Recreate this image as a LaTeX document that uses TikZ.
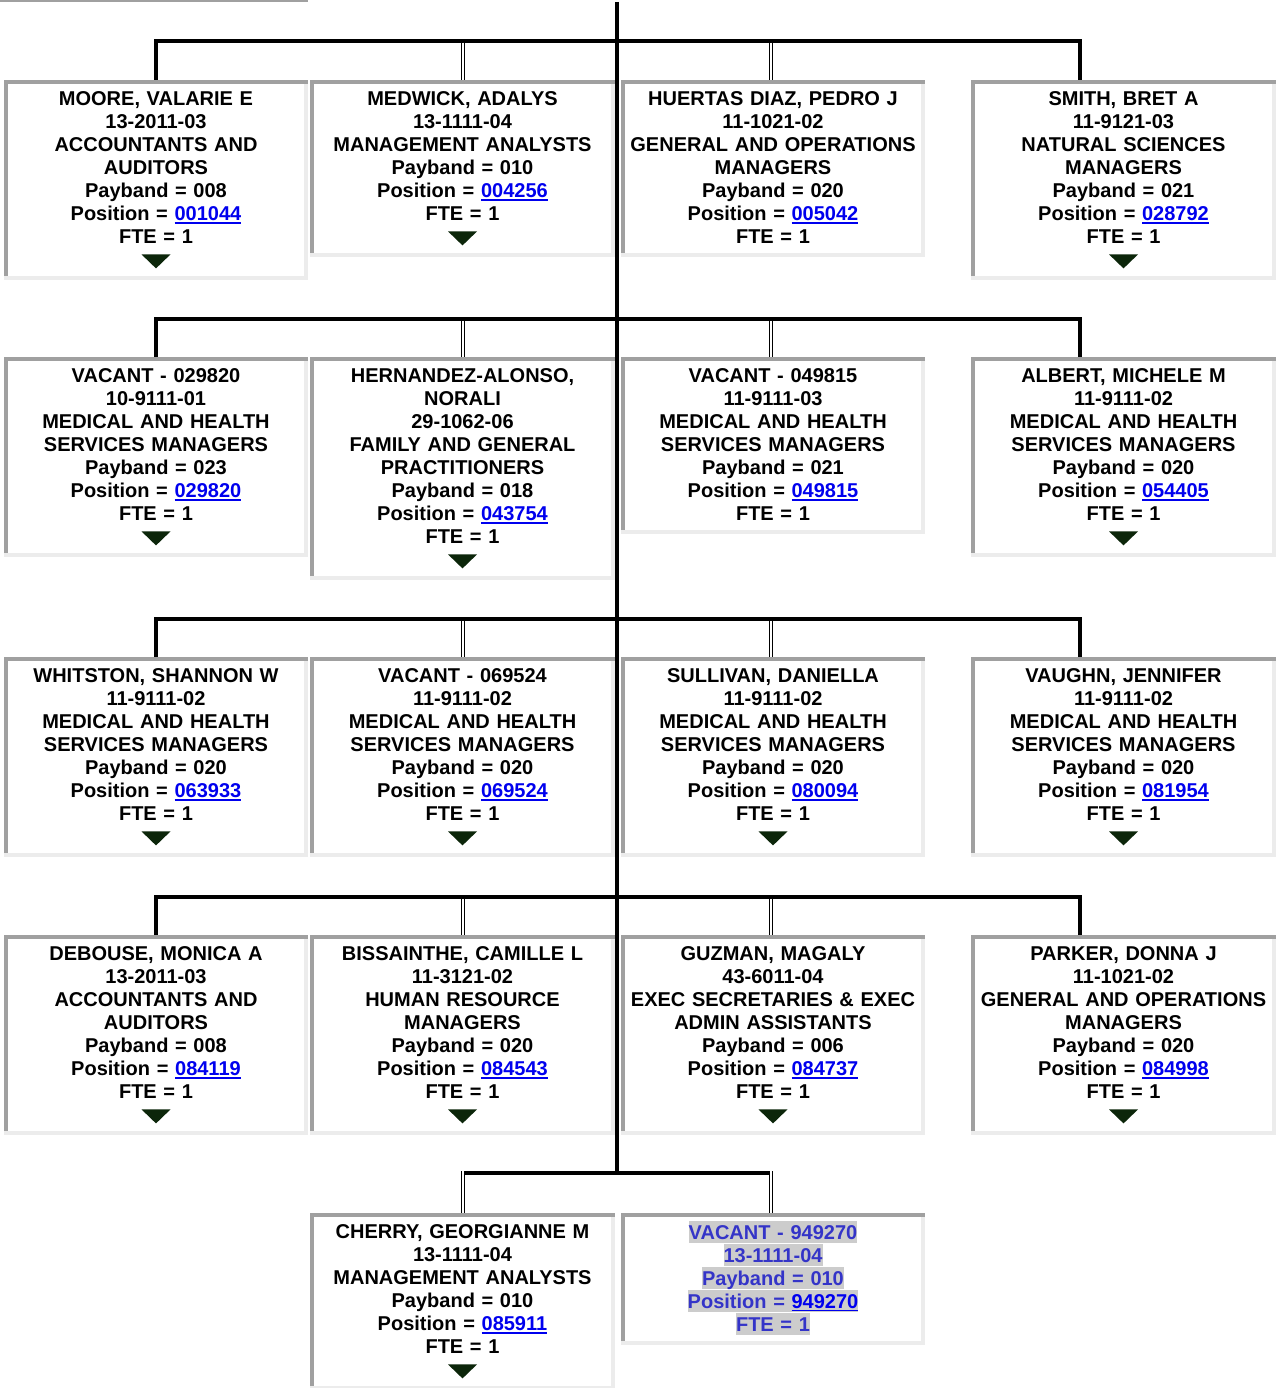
\documentclass[tikz,border=0pt]{standalone}
\usepackage{fontspec}
\setmainfont{Liberation Sans}
\definecolor{rimdk}{HTML}{A0A0A0}
\definecolor{rimlt}{HTML}{ECECEC}
\definecolor{linkc}{HTML}{0000EE}
\definecolor{downc}{HTML}{0C260A}
\definecolor{vactxt}{HTML}{3434C8}
\definecolor{vacbg}{HTML}{CCCCCC}
\usetikzlibrary{calc}
\newcommand\pfont{\fontsize{20pt}{23pt}\selectfont\bfseries}
\newcommand\posn[1]{{\color{linkc}\setbox0\hbox{#1}\rlap{\rule[-3.2pt]{\wd0}{1.6pt}}\box0}}
\newcommand\hilite[1]{{\fboxsep=0pt\colorbox{vacbg}{\rule[-3.5pt]{0pt}{21.5pt}#1}}}
\newcommand\bevel[1]{%
  \draw[rimdk,line width=4pt] ([xshift=2pt,yshift=4pt]#1.south west) -- ([xshift=2pt,yshift=-2pt]#1.north west) -- ([yshift=-2pt]#1.north east);
  \draw[rimlt,line width=4pt] ([xshift=-2pt,yshift=-4pt]#1.north east) -- ([xshift=-2pt,yshift=2pt]#1.south east) -- ([yshift=2pt]#1.south west);}
\newcommand\more[1]{\fill[downc] ($(#1.south)+(-14.5,-26)$) -- ($(#1.south)+(14.5,-26)$) -- ($(#1.south)+(0,-12)$) -- cycle;}
\tikzset{
  pbox/.style={anchor=north,text width=296pt,inner xsep=4pt,inner ysep=8pt,align=center,fill=white,font=\pfont,
    execute at begin node={\rule{0pt}{17.5pt}},execute at end node={\rule[-5.5pt]{0pt}{5.5pt}}},
  wire/.style={draw=black,line width=3.5pt},
  dwire/.style={draw=black,double=white,line width=1pt,double distance=2pt},
}
\begin{document}
\begin{tikzpicture}[x=1pt,y=-1pt]
\useasboundingbox (0,0) rectangle (1275,1388);
% bottom of the box above, cut off
\fill[rimdk] (0,0) rectangle (308,2.5);
\coordinate (top) at (617,2);
\coordinate (x3) at (771,0);
\coordinate (x4) at (1080,0);
\foreach \r/\y in {1/41,2/319,3/619,4/897,5/1173} \coordinate (b\r) at (617,\y);
% row 1
\node[pbox] (c11) at (156,80) {MOORE, VALARIE E\\13-2011-03\\ACCOUNTANTS AND\\AUDITORS\\Payband = 008\\Position = \posn{001044}\\FTE = 1\\};
\node[pbox] (c12) at (462.5,80) {MEDWICK, ADALYS\\13-1111-04\\MANAGEMENT ANALYSTS\\Payband = 010\\Position = \posn{004256}\\FTE = 1\\};
\node[pbox] (c13) at (773,80) {HUERTAS DIAZ, PEDRO J\\11-1021-02\\GENERAL AND OPERATIONS\\MANAGERS\\Payband = 020\\Position = \posn{005042}\\FTE = 1};
\node[pbox] (c14) at (1123.5,80) {SMITH, BRET A\\11-9121-03\\NATURAL SCIENCES\\MANAGERS\\Payband = 021\\Position = \posn{028792}\\FTE = 1\\};
% row 2
\node[pbox] (c21) at (156,357) {VACANT - 029820\\10-9111-01\\MEDICAL AND HEALTH\\SERVICES MANAGERS\\Payband = 023\\Position = \posn{029820}\\FTE = 1\\};
\node[pbox] (c22) at (462.5,357) {HERNANDEZ-ALONSO,\\NORALI\\29-1062-06\\FAMILY AND GENERAL\\PRACTITIONERS\\Payband = 018\\Position = \posn{043754}\\FTE = 1\\};
\node[pbox] (c23) at (773,357) {VACANT - 049815\\11-9111-03\\MEDICAL AND HEALTH\\SERVICES MANAGERS\\Payband = 021\\Position = \posn{049815}\\FTE = 1};
\node[pbox] (c24) at (1123.5,357) {ALBERT, MICHELE M\\11-9111-02\\MEDICAL AND HEALTH\\SERVICES MANAGERS\\Payband = 020\\Position = \posn{054405}\\FTE = 1\\};
% row 3
\node[pbox] (c31) at (156,657) {WHITSTON, SHANNON W\\11-9111-02\\MEDICAL AND HEALTH\\SERVICES MANAGERS\\Payband = 020\\Position = \posn{063933}\\FTE = 1\\};
\node[pbox] (c32) at (462.5,657) {VACANT - 069524\\11-9111-02\\MEDICAL AND HEALTH\\SERVICES MANAGERS\\Payband = 020\\Position = \posn{069524}\\FTE = 1\\};
\node[pbox] (c33) at (773,657) {SULLIVAN, DANIELLA\\11-9111-02\\MEDICAL AND HEALTH\\SERVICES MANAGERS\\Payband = 020\\Position = \posn{080094}\\FTE = 1\\};
\node[pbox] (c34) at (1123.5,657) {VAUGHN, JENNIFER\\11-9111-02\\MEDICAL AND HEALTH\\SERVICES MANAGERS\\Payband = 020\\Position = \posn{081954}\\FTE = 1\\};
% row 4
\node[pbox] (c41) at (156,935) {DEBOUSE, MONICA A\\13-2011-03\\ACCOUNTANTS AND\\AUDITORS\\Payband = 008\\Position = \posn{084119}\\FTE = 1\\};
\node[pbox] (c42) at (462.5,935) {BISSAINTHE, CAMILLE L\\11-3121-02\\HUMAN RESOURCE\\MANAGERS\\Payband = 020\\Position = \posn{084543}\\FTE = 1\\};
\node[pbox] (c43) at (773,935) {GUZMAN, MAGALY\\43-6011-04\\EXEC SECRETARIES \& EXEC\\ADMIN ASSISTANTS\\Payband = 006\\Position = \posn{084737}\\FTE = 1\\};
\node[pbox] (c44) at (1123.5,935) {PARKER, DONNA J\\11-1021-02\\GENERAL AND OPERATIONS\\MANAGERS\\Payband = 020\\Position = \posn{084998}\\FTE = 1\\};
% row 5
\node[pbox] (c52) at (462.5,1213) {CHERRY, GEORGIANNE M\\13-1111-04\\MANAGEMENT ANALYSTS\\Payband = 010\\Position = \posn{085911}\\FTE = 1\\};
\node[pbox,text=vactxt,execute at begin node={}] (c53) at (773,1213) {\hilite{VACANT - 949270}\\\hilite{13-1111-04}\\\hilite{Payband = 010}\\\hilite{Position = \posn{949270}}\\\hilite{FTE = 1}};
\foreach \n in {c11,c12,c13,c14,c21,c22,c23,c24,c31,c32,c33,c34,c41,c42,c43,c44,c52,c53} \bevel{\n};
\foreach \n in {c11,c12,c14,c21,c22,c24,c31,c32,c33,c34,c41,c42,c43,c44,c52} \more{\n};
% connectors
\draw[wire] (top) -- (b5);
\foreach \r in {1,2,3,4}{
  \draw[wire] (c\r1.north) |- (b\r) -| (c\r4.north -| x4);
  \draw[dwire] ($(c\r2.north |- b\r)+(0,1.75)$) -- (c\r2.north);
  \draw[dwire] ($(x3 |- b\r)+(0,1.75)$) -- (c\r3.north -| x3);
}
\draw[wire,line cap=rect] (c52.north |- b5) -- (x3 |- b5);
\draw[dwire] ($(c52.north |- b5)+(0,-1.75)$) -- (c52.north);
\draw[dwire] ($(x3 |- b5)+(0,-1.75)$) -- (c53.north -| x3);
\end{tikzpicture}
\end{document}
